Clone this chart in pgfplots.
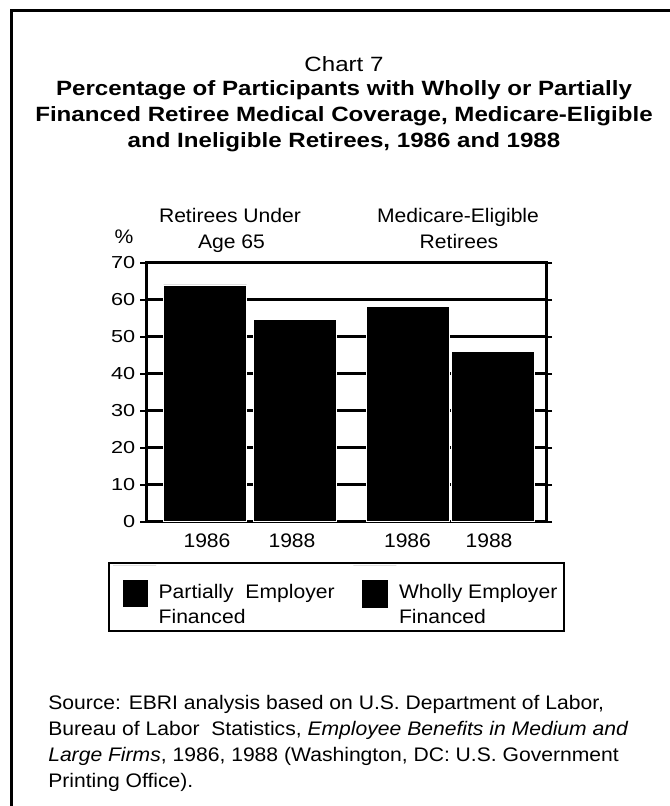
\documentclass[border=0pt]{standalone}
\usepackage{pgfplots}
\pgfplotsset{compat=1.18}
\usepackage{fontspec}
\setmainfont{Liberation Sans}[FakeStretch=1.077]
\newfontfamily\titlefont{Liberation Sans}[FakeStretch=1.166]
\newfontfamily\tickfont{Liberation Sans}[FakeStretch=1.25]

\newcommand\chartfont{\fontsize{14.7}{19.5}\selectfont}
\newcommand\legfont{\fontsize{14.7}{18.75}\selectfont}

\begin{document}
\begin{tikzpicture}[x=0.75pt,y=-0.75pt]
\useasboundingbox (0,0) rectangle (670,806);
% page frame
\draw[line width=1.9pt] (11.5,806) -- (11.5,10.7) -- (671,10.7);

% titles
\node[anchor=base,font=\titlefont\fontsize{15.5}{18}\selectfont] at (344,72) {Chart 7};
\node[anchor=base,font=\titlefont\fontsize{15.5}{18}\selectfont\bfseries] at (344,95.7) {Percentage of Participants with Wholly or Partially};
\node[anchor=base,font=\titlefont\fontsize{15.5}{18}\selectfont\bfseries] at (344,121.7) {Financed Retiree Medical Coverage, Medicare-Eligible};
\node[anchor=base,font=\titlefont\fontsize{15.5}{18}\selectfont\bfseries] at (344,147.7) {and Ineligible Retirees, 1986 and 1988};

\coordinate (O) at (146,521.7);
\begin{axis}[
  at={(O)}, anchor=south west,
  scale only axis, width=300pt, height=194.25pt,
  xmin=0, xmax=40, ymin=0, ymax=70,
  axis line style={line width=2.25pt},
  ytick={0,10,...,70},
  ymajorgrids, grid style={black, line width=2.25pt},
  xtick={6.1,14.6,26.15,34.3},
  xticklabels={1986,1988,1986,1988},
  xtick style={draw=none},
  ytick style={black, line width=1.5pt},
  tick align=outside, major tick length=4.5pt,
  yticklabel style={font=\tickfont\fontsize{13}{15}\selectfont},
  xticklabel style={font=\chartfont, anchor=base, yshift=-15.2pt},
  /pgf/number format/assume math mode=true,
  ybar, bar width=8.3,
  legend columns=2,
  legend style={at={(axis description cs:-0.095,-0.155)}, anchor=north west,
    draw=black, line width=1.5pt, font=\legfont,
    /tikz/every even column/.append style={column sep=0pt}},
  legend image code/.code={%
    \path[draw=none] (0pt,28.5pt) -- (32.25pt,28.5pt);
    \fill[black] (7.5pt,-2.25pt) rectangle (25.5pt,17.25pt);},
]
\addplot[fill=black, draw=white, line width=0.4pt] coordinates {(5.9,64) (14.9,54.6) (26.15,58.1) (34.7,46)};
\addlegendentry{\begin{tabular}[b]{@{}p{144pt}@{}}Partially\ \ Employer\\Financed\end{tabular}}
\addlegendimage{fill=black}
\addlegendentry{\begin{tabular}[b]{@{}l@{}}Wholly Employer\\Financed\end{tabular}}
\end{axis}

% group labels
\node[anchor=base,font=\chartfont] at (230,222.3) {Retirees Under};
\node[anchor=base,font=\chartfont] at (231.5,248.3) {Age 65};
\node[anchor=base,font=\chartfont] at (458,222.3) {Medicare-Eligible};
\node[anchor=base,font=\chartfont] at (459,248.3) {Retirees};
\node[anchor=base,font=\chartfont] at (124,243.5) {\%};

% source note
\node[anchor=base west,font=\chartfont,inner sep=0pt] at (48,709) {Source: EBRI analysis based on U.S. Department of Labor,};
\node[anchor=base west,font=\chartfont,inner sep=0pt] at (48,735) {Bureau of Labor\ \ Statistics, \textit{Employee Benefits in Medium and}};
\node[anchor=base west,font=\chartfont,inner sep=0pt] at (48,761) {\textit{Large Firms}, 1986, 1988 (Washington, DC: U.S. Government};
\node[anchor=base west,font=\chartfont,inner sep=0pt] at (48,787) {Printing Office).};
\end{tikzpicture}
\end{document}
